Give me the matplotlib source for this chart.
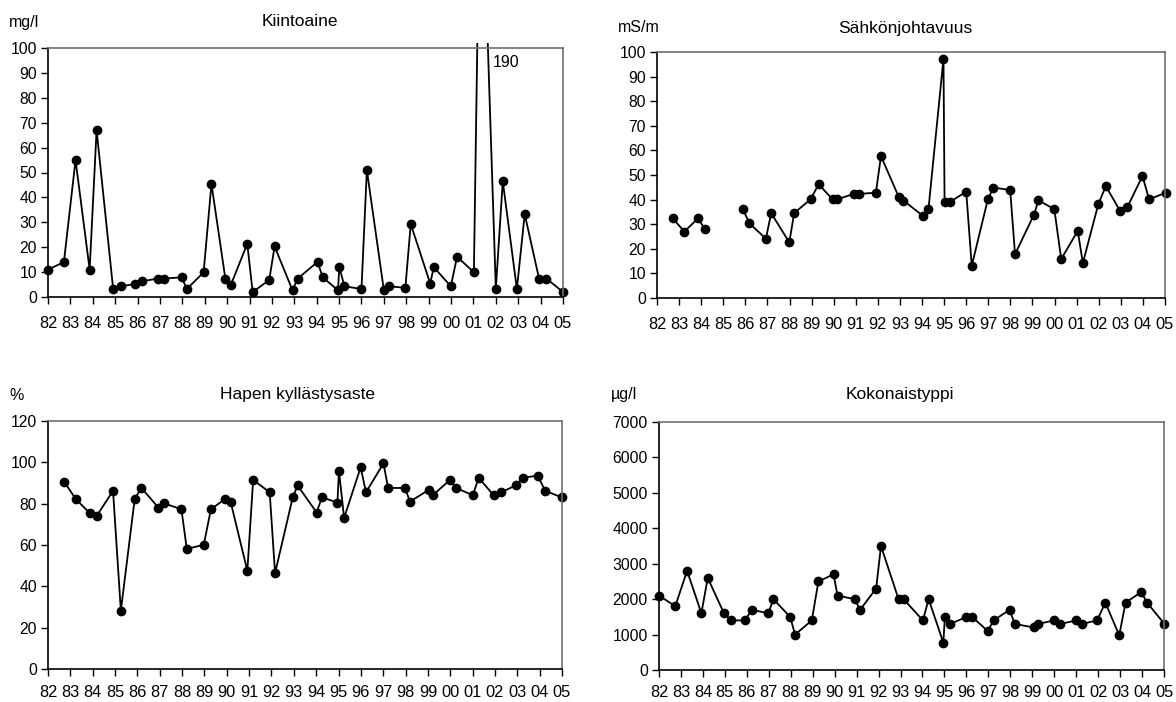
import numpy as np
import matplotlib.pyplot as plt
from matplotlib.patches import Rectangle

plt.rcParams["font.family"] = ["Liberation Sans", "DejaVu Sans"]

# year positions (decimal years) and values
kiinto_x = [1982.00, 1982.71, 1983.23, 1983.86, 1984.17, 1984.91, 1985.25, 1985.88,
            1986.18, 1986.92, 1987.16, 1987.97, 1988.20, 1988.95, 1989.30, 1989.92,
            1990.16, 1990.90, 1991.14, 1991.88, 1992.12, 1992.92, 1993.15, 1994.04,
            1994.27, 1994.95, 1995.01, 1995.24, 1996.00, 1996.24, 1997.00, 1997.22,
            1997.96, 1998.20, 1999.07, 1999.23, 1999.99, 2000.27, 2001.02, 2001.32,
            2002.00, 2002.31, 2002.94, 2003.29, 2003.93, 2004.26, 2005.00]
kiinto_y = [11, 14, 55, 11, 67, 3.2, 4.3, 5.2,
            6.3, 7.4, 7.4, 7.9, 3.2, 9.9, 45.4, 7.4,
            4.7, 21.4, 2.0, 6.8, 20.3, 2.7, 7.4, 14.1,
            7.9, 2.7, 12.0, 4.3, 3.2, 51, 2.7, 4.3,
            3.7, 29.3, 5.4, 12.0, 4.3, 16.2, 9.9, 190,
            3.2, 46.5, 3.2, 33.3, 7.4, 7.4, 2.0]

sahko_x = [1982.71, 1983.24, 1983.86, 1984.16, np.nan, 1985.89, 1986.18, 1986.93,
           1987.17, 1987.99, 1988.21, 1988.95, 1989.32, 1989.95, 1990.16, 1990.90,
           1991.14, 1991.91, 1992.14, 1992.94, 1993.16, 1994.04, 1994.29, 1994.97,
           1995.02, 1995.27, 1996.00, 1996.25, 1996.98, 1997.23, 1997.99, 1998.21,
           1999.07, 1999.27, 1999.99, 2000.30, 2001.05, 2001.28, 2001.98, 2002.32,
           2002.96, 2003.30, 2003.98, 2004.28, 2005.03]
sahko_y = [32.4, 27.0, 32.4, 28.1, np.nan, 36.1, 30.4, 24.1,
           34.5, 22.6, 34.5, 40.1, 46.2, 40.1, 40.1, 42.3,
           42.3, 42.8, 57.7, 41.2, 39.6, 33.4, 36.1, 97.2,
           39.1, 39.1, 43.2, 13.1, 40.1, 44.9, 43.9, 17.8,
           33.9, 39.7, 36.1, 15.8, 27.3, 14.2, 38.1, 45.5,
           35.5, 37.0, 49.6, 40.1, 42.8]

hapen_x = [1982.73, 1983.24, 1983.87, 1984.18, 1984.91, 1985.26, 1985.88, 1986.18,
           1986.94, 1987.18, 1987.97, 1988.21, 1988.97, 1989.29, 1989.93, 1990.17,
           1990.92, 1991.18, 1991.92, 1992.16, 1992.95, 1993.17, 1994.02, 1994.26,
           1994.95, 1995.02, 1995.25, 1995.99, 1996.23, 1997.01, 1997.22, 1997.97,
           1998.20, 1999.04, 1999.22, 1999.99, 2000.26, 2001.01, 2001.27, 2001.94,
           2002.28, 2002.92, 2003.25, 2003.91, 2004.25, 2005.00]
hapen_y = [90.5, 82.3, 75.4, 74.1, 86.2, 28.2, 82.3, 87.6,
           78.1, 80.2, 77.3, 58.1, 60.1, 77.3, 82.3, 81.0,
           47.5, 91.5, 85.5, 46.4, 83.0, 88.8, 75.7, 83.1,
           80.5, 95.8, 73.1, 97.6, 85.5, 99.5, 87.6, 87.6,
           81.0, 86.7, 84.1, 91.5, 87.6, 84.1, 92.5, 84.1,
           85.5, 88.8, 92.5, 93.6, 86.2, 83.0]

typpi_x = [1982.00, 1982.74, 1983.28, 1983.93, 1984.22, 1984.96, 1985.27, 1985.92,
           1986.22, 1986.98, 1987.21, 1987.97, 1988.20, 1988.96, 1989.26, 1989.95,
           1990.13, 1990.91, 1991.16, 1991.89, 1992.11, 1992.91, 1993.14, 1994.02,
           1994.28, 1994.95, 1995.02, 1995.27, 1996.00, 1996.26, 1996.97, 1997.24,
           1997.97, 1998.20, 1999.07, 1999.25, 2000.01, 2000.28, 2001.01, 2001.26,
           2001.95, 2002.33, 2002.96, 2003.25, 2003.96, 2004.23, 2005.02]
typpi_y = [2100, 1800, 2800, 1600, 2600, 1600, 1400, 1400,
           1700, 1600, 2000, 1500, 1000, 1400, 2500, 2700,
           2100, 2000, 1700, 2300, 3500, 2000, 2000, 1400,
           2000, 770, 1500, 1300, 1500, 1500, 1100, 1400,
           1700, 1300, 1200, 1300, 1400, 1300, 1400, 1300,
           1400, 1900, 980, 1900, 2200, 1900, 1300]

years = list(range(1982, 2006))
year_labels = ["%02d" % (y % 100) for y in years]

W, H = 1176, 702
fig = plt.figure(figsize=(W / 100, H / 100), dpi=100)


def make_ax(left, top, right, bottom):
    return fig.add_axes([left / W, 1 - bottom / H, (right - left) / W, (bottom - top) / H])


def style(ax, x, y, ymax, ystep, xpad=9):
    line, = ax.plot(x, y, color="black", lw=1.3, marker="o", ms=6,
                    markerfacecolor="black", markeredgecolor="black")
    clip = Rectangle((-0.03, -0.05), 1.06, 1.072, transform=ax.transAxes)
    line.set_clip_path(clip)
    ax.set_xlim(1982, 2005)
    ax.set_ylim(0, ymax)
    ax.set_xticks(years)
    ax.set_xticklabels(year_labels)
    ax.set_yticks(np.arange(0, ymax + 1, ystep))
    ax.tick_params(axis="x", direction="out", length=5, width=1, pad=xpad, labelsize=11.8)
    ax.tick_params(axis="y", direction="out", length=5, width=1, pad=3, labelsize=11.3)
    for s in ["top", "right"]:
        ax.spines[s].set_color("#707070")
    for s in ["left", "bottom"]:
        ax.spines[s].set_color("black")
    for s in ax.spines.values():
        s.set_linewidth(1.2)


ax1 = make_ax(48, 48, 563, 297)
style(ax1, kiinto_x, kiinto_y, 100, 10)
ax1.text(2001.85, 94, "190", fontsize=11.5, ha="left", va="center")

ax2 = make_ax(657, 52, 1165, 298)
style(ax2, sahko_x, sahko_y, 100, 10)

ax3 = make_ax(48, 421, 562, 669)
style(ax3, hapen_x, hapen_y, 120, 20, xpad=6.5)

ax4 = make_ax(659, 422, 1164, 670)
style(ax4, typpi_x, typpi_y, 7000, 1000, xpad=6)

# titles and unit labels
fig.text(300 / W, 1 - 22 / H, "Kiintoaine", fontsize=12.5, ha="center", va="center")
fig.text(9 / W, 1 - 22 / H, "mg/l", fontsize=11.5, ha="left", va="center")
fig.text(905 / W, 1 - 28 / H, "Sähkönjohtavuus", fontsize=12.5, ha="center", va="center")
fig.text(618 / W, 1 - 27 / H, "mS/m", fontsize=11.5, ha="left", va="center")
fig.text(298 / W, 1 - 395 / H, "Hapen kyllästysaste", fontsize=12.5, ha="center", va="center")
fig.text(9 / W, 1 - 395 / H, "%", fontsize=11.5, ha="left", va="center")
fig.text(900 / W, 1 - 395 / H, "Kokonaistyppi", fontsize=12.5, ha="center", va="center")
fig.text(611 / W, 1 - 394 / H, "µg/l", fontsize=11.5, ha="left", va="center")

fig.savefig("out.png", dpi=100)
